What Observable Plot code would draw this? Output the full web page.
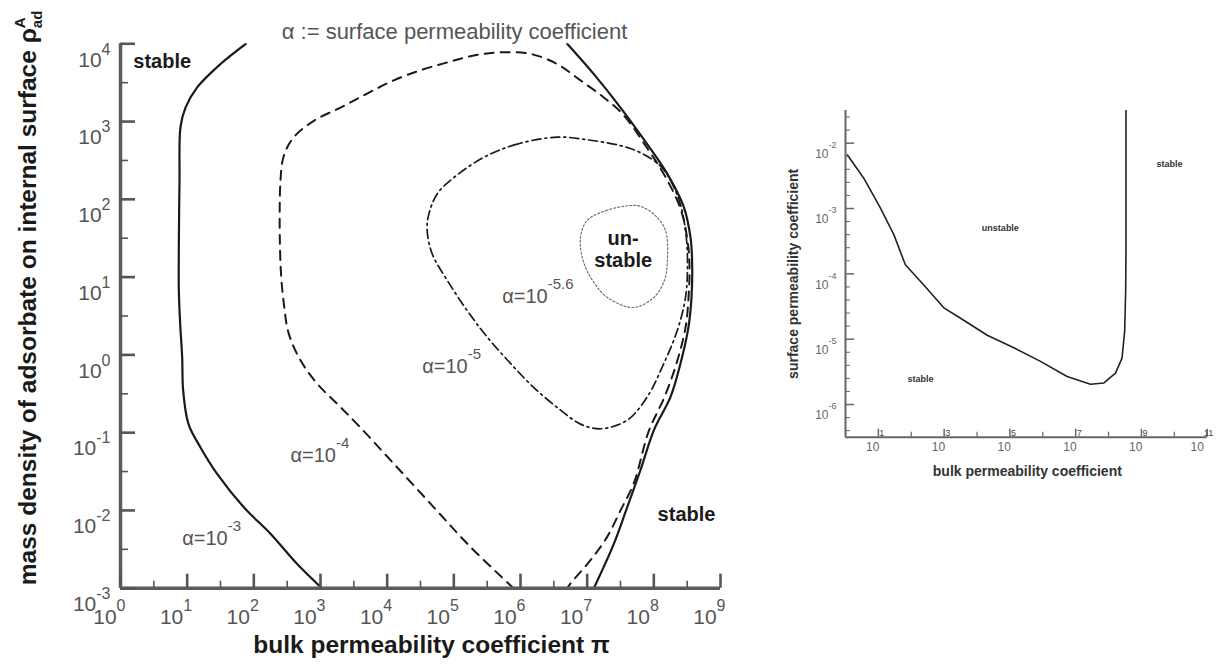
<!DOCTYPE html>
<html>
<head>
<meta charset="utf-8">
<script src="https://cdn.jsdelivr.net/npm/d3@7"></script>
<script src="https://cdn.jsdelivr.net/npm/@observablehq/plot@0.6"></script>
<style>
  html,body{margin:0;padding:0;background:#fff;}
  #fig{position:relative;width:1224px;height:669px;overflow:hidden;background:#fff;}
  #main,#inset{position:absolute;top:0;}
  #main{left:0;} #inset{left:760px;}
</style>
</head>
<body>
<div id="fig"><div id="main"></div><div id="inset"></div></div>
<script>
// ---------------- DATA (log10 exponents) ----------------
// Main chart: x = bulk permeability coefficient π, y = mass density of adsorbate ρ_ad^A
const mainXTickExp  = [0,1,2,3,4,5,6,7,8,9];
const mainXMinorExp = [0.5,1.5,2.5,3.5,4.5,5.5,6.5,7.5,8.5];
const mainYTickExp  = [-3,-2,-1,0,1,2,3,4];
const mainYMinorExp = [-2.5,-1.5,-0.5,0.5,1.5,2.5,3.5];

// α = 10^-3, left branch (solid)
const a3LeftPi  = [1.88,1.50,1.15,0.975,0.90,0.885,0.875,0.875,0.895,0.925,0.94,1.02,1.20,1.45,1.85,2.25,2.65,3.02];
const a3LeftRho = [4.00,3.74,3.44,3.18,2.93,2.24,1.38,0.83,0.40,-0.03,-0.46,-0.89,-1.19,-1.53,-1.96,-2.30,-2.69,-3.00];
// α = 10^-3, right branch (solid)
const a3RightPi  = [6.70,7.10,7.50,7.90,8.20,8.45,8.55,8.575,8.565,8.52,8.40,8.25,8.00,7.80,7.60,7.40,7.10];
const a3RightRho = [4.00,3.61,3.18,2.71,2.33,1.90,1.51,1.17,0.74,0.36,-0.11,-0.54,-0.97,-1.48,-1.96,-2.43,-3.00];
// α = 10^-4 (dashed)
const a4Pi  = [5.895,5.25,4.70,4.10,3.55,3.25,2.95,2.70,2.525,2.45,2.40,2.40,2.45,2.60,2.90,3.30,3.70,4.10,4.50,4.90,5.30,5.70,6.15,6.55,6.90,7.25,7.55,7.875,8.16,8.40,8.505,8.535,8.52,8.475,8.34,8.16,7.92,7.70,7.50,7.30,7.05,6.75,6.70];
const a4Rho = [-3.00,-2.47,-1.96,-1.40,-0.89,-0.63,-0.37,-0.07,0.27,0.66,1.17,2.24,2.56,2.80,3.01,3.18,3.36,3.53,3.66,3.76,3.85,3.89,3.87,3.74,3.53,3.31,3.08,2.69,2.31,1.88,1.47,1.14,0.73,0.35,-0.11,-0.54,-0.99,-1.65,-2.00,-2.34,-2.64,-2.94,-3.00];
// α = 10^-5 (dash-dot, closed)
const a5Pi  = [6.55,5.95,5.45,5.00,4.75,4.625,4.60,4.675,4.90,5.20,5.50,5.85,6.20,6.60,6.90,7.20,7.60,7.90,8.15,8.35,8.475,8.505,8.475,8.37,8.13,7.80,7.50,7.05];
const a5Rho = [2.80,2.71,2.54,2.28,2.07,1.81,1.60,1.30,0.96,0.57,0.23,-0.11,-0.42,-0.71,-0.89,-0.95,-0.84,-0.54,-0.11,0.31,0.74,1.17,1.60,2.01,2.40,2.60,2.69,2.76];
// α = 10^-5.6 (dotted, closed)
const a56Pi  = [7.65,7.30,7.00,6.90,6.93,7.05,7.30,7.70,8.00,8.16,8.20,8.175,8.00,7.80];
const a56Rho = [1.92,1.86,1.73,1.51,1.24,1.00,0.74,0.61,0.74,0.96,1.17,1.60,1.81,1.91];

// curve labels
const alphaLabelText = ["α=10^{-3}","α=10^{-4}","α=10^{-5}","α=10^{-5.6}"];
const alphaLabelPi   = [0.925,2.55,4.525,5.725];
const alphaLabelRho  = [-2.365,-1.29,-0.15,0.755];
// region labels
const regionText = ["stable","stable","un-\nstable"];
const regionPi   = [0.625,8.49,7.54];
const regionRho  = [3.785,-2.04,1.36];

// Inset: x = bulk permeability coefficient, y = surface permeability coefficient
const insetXMajorExp = [1,3,5,7,9,11];
const insetXMinorExp = [2,4,6,8,10];
const insetYMajorExp = [-2,-3,-4,-5,-6];
const insetYMinorExp = [-1.6,-1.8,-2.2,-2.4,-2.6,-2.8,-3.2,-3.4,-3.6,-3.8,-4.2,-4.4,-4.6,-4.8,-5.2,-5.4,-5.6,-5.8,-6.2,-6.4];
const insetCurvePi    = [0.06,0.56,1.06,1.47,1.82,2.38,2.99,3.50,4.31,5.12,5.93,6.74,7.45,7.86,8.21,8.41,8.49,8.52,8.53,8.53];
const insetCurveAlpha = [-2.18,-2.54,-2.99,-3.40,-3.86,-4.17,-4.52,-4.68,-4.94,-5.13,-5.34,-5.57,-5.69,-5.67,-5.52,-5.29,-4.88,-4.27,-3.66,-1.50];
const insetRegionText = ["stable","unstable","stable"];
const insetRegionPi   = [9.85,4.71,2.28];
const insetRegionAlpha= [-2.32,-3.30,-5.61];

// ---------------- helpers ----------------
const FONT = "'Liberation Sans', Arial, Helvetica, sans-serif";
const pts = (px, py) => px.map((v, i) => ({x: 10 ** v, y: 10 ** py[i]}));
const SVGNS = "http://www.w3.org/2000/svg";

// turn "10^{-3}" / "ρ^{A}_{ad}" into real tspans
function richify(root, cls, o) {
  root.querySelectorAll(`g.${cls} text`).forEach(el => {
    const s = el.textContent;
    if (!/[\^_]\{/.test(s)) return;
    const parts = s.split(/(\^\{[^}]*\}|_\{[^}]*\})/).filter(p => p !== "");
    while (el.firstChild) el.removeChild(el.firstChild);
    let level = 0, lastSup = null;
    parts.forEach(p => {
      const t = document.createElementNS(SVGNS, "tspan");
      let target = 0, size = null, txt = p;
      if (p.startsWith("^{")) { target = -o.sup; size = o.size; txt = p.slice(2, -1); }
      else if (p.startsWith("_{")) { target = o.sub; size = o.size; txt = p.slice(2, -1);
        if (lastSup) t.setAttribute("dx", -lastSup.getComputedTextLength()); }
      t.setAttribute("dy", target - level);
      if (size) t.setAttribute("font-size", size);
      if (o.supFill && p.startsWith("^{")) t.setAttribute("fill", o.supFill);
      t.textContent = txt;
      el.appendChild(t);
      level = target;
      lastSup = p.startsWith("^{") ? t : null;
    });
  });
}

// ---------------- MAIN CHART ----------------
const mW = 760, mH = 669, mL = 120, mR = 40, mT = 43.3, mB = 81.3;
const frameH = mH - mT - mB, frameW = mW - mL - mR;
const axisCol = "#5c5c5c", tickCol = "#555", labCol = "#555", dark = "#1a1a1a";

const mainPlot = Plot.plot({
  width: mW, height: mH,
  marginLeft: mL, marginRight: mR, marginTop: mT, marginBottom: mB,
  x: {type: "log", domain: [1, 1e9], axis: null},
  y: {type: "log", domain: [1e-3, 1e4], axis: null},
  style: {fontFamily: FONT, background: "#fff", overflow: "visible"},
  marks: [
    Plot.line(pts(a3LeftPi, a3LeftRho), {x: "x", y: "y", stroke: dark, strokeWidth: 2.2, curve: "catmull-rom", clip: true}),
    Plot.line(pts(a3RightPi, a3RightRho), {x: "x", y: "y", stroke: dark, strokeWidth: 2.2, curve: "catmull-rom", clip: true}),
    Plot.line(pts(a4Pi, a4Rho), {x: "x", y: "y", stroke: dark, strokeWidth: 2, strokeDasharray: "9,7", curve: "catmull-rom", clip: true}),
    Plot.line(pts(a5Pi, a5Rho), {x: "x", y: "y", stroke: dark, strokeWidth: 1.7, strokeDasharray: "9,4,2,4", curve: "catmull-rom-closed", clip: true}),
    Plot.line(pts(a56Pi, a56Rho), {x: "x", y: "y", stroke: "#666", strokeWidth: 1.1, strokeDasharray: "2,2", curve: "catmull-rom-closed", clip: true}),
    // axes
    Plot.ruleX([1], {stroke: axisCol, strokeWidth: 3.5}),
    Plot.ruleY([1e-3], {stroke: axisCol, strokeWidth: 3.5}),
    Plot.tickX(mainXTickExp, {x: d => 10 ** d, insetTop: frameH - 14, stroke: tickCol, strokeWidth: 2.6}),
    Plot.tickX(mainXMinorExp, {x: d => 10 ** d, insetTop: frameH - 7, stroke: tickCol, strokeWidth: 1.6}),
    Plot.tickY(mainYTickExp, {y: d => 10 ** d, insetRight: frameW - 15, stroke: tickCol, strokeWidth: 2.6}),
    Plot.tickY(mainYMinorExp, {y: d => 10 ** d, insetRight: frameW - 8, stroke: tickCol, strokeWidth: 1.6}),
    // tick labels
    Plot.text(mainXTickExp, {x: d => 10 ** d, y: 1e-3, text: d => `10^{${d}}`, textAnchor: "end", dx: 5, dy: 29, fontSize: 21, fill: labCol, className: "tkx"}),
    Plot.text(mainYTickExp, {x: 1, y: d => 10 ** d, text: d => `10^{${d}}`, textAnchor: "end", dx: -10, dy: 16, fontSize: 21, fill: labCol, className: "tky"}),
    // curve labels
    Plot.text(alphaLabelText, {x: (d, i) => 10 ** alphaLabelPi[i], y: (d, i) => 10 ** alphaLabelRho[i], text: d => d, textAnchor: "start", fontSize: 20, fill: labCol, className: "alab"}),
    // region labels
    Plot.text(regionText, {x: (d, i) => 10 ** regionPi[i], y: (d, i) => 10 ** regionRho[i], text: d => d, fontSize: 20, fontWeight: "bold", fill: dark, lineHeight: 1.1}),
    // titles
    Plot.text(["α := surface permeability coefficient"], {frameAnchor: "top", dx: 34, dy: -20, fontSize: 22, fill: labCol}),
    Plot.text(["bulk permeability coefficient π"], {frameAnchor: "bottom", dx: 11, dy: 65, fontSize: 24.5, fontWeight: "bold", fill: dark}),
    Plot.text(["mass density of adsorbate on internal surface ρ^{A}_{ad}"], {frameAnchor: "bottom-left", textAnchor: "start", rotate: -90, dx: -85, dy: -3, fontSize: 24.5, fontWeight: "bold", fill: dark, className: "ylab"})
  ]
});
document.getElementById("main").appendChild(mainPlot);
richify(mainPlot, "tkx", {sup: 13, size: 16});
richify(mainPlot, "tky", {sup: 12, size: 16});
richify(mainPlot, "alab", {sup: 14, size: 15});
richify(mainPlot, "ylab", {sup: 11, sub: 6, size: 15});

// ---------------- INSET ----------------
const iW = 464, iH = 669, iL = 85, iR = 17.3, iT = 110, iB = 232.3;
const iFH = iH - iT - iB, iFW = iW - iL - iR;
const insetPlot = Plot.plot({
  width: iW, height: iH,
  marginLeft: iL, marginRight: iR, marginTop: iT, marginBottom: iB,
  x: {type: "log", domain: [1, 1e11], axis: null},
  y: {type: "log", domain: [10 ** -6.5, 10 ** -1.5], axis: null},
  style: {fontFamily: FONT, background: "transparent", overflow: "visible"},
  marks: [
    Plot.line(pts(insetCurvePi, insetCurveAlpha), {x: "x", y: "y", stroke: "#222", strokeWidth: 1.6, clip: true}),
    Plot.ruleX([1], {stroke: "#666", strokeWidth: 2}),
    Plot.ruleY([10 ** -6.5], {stroke: "#666", strokeWidth: 2}),
    Plot.tickX(insetXMajorExp, {x: d => 10 ** d, insetTop: iFH - 8, stroke: "#666", strokeWidth: 1.5}),
    Plot.tickX(insetXMinorExp, {x: d => 10 ** d, insetTop: iFH - 5, stroke: "#666", strokeWidth: 1.2}),
    Plot.tickY(insetYMajorExp, {y: d => 10 ** d, insetRight: iFW - 9, stroke: "#666", strokeWidth: 1.5}),
    Plot.tickY(insetYMinorExp, {y: d => 10 ** d, insetRight: iFW - 5, stroke: "#666", strokeWidth: 1}),
    Plot.text(insetXMajorExp, {x: d => 10 ** d, y: 10 ** -6.5, text: d => `10^{${d}}`, textAnchor: "end", dx: 6, dy: 10, fontSize: 12, fill: "#666", className: "itx"}),
    Plot.text(insetYMajorExp, {x: 1, y: d => 10 ** d, text: d => `10^{${d}}`, textAnchor: "end", dx: -9, dy: 11, fontSize: 12, fill: "#666", className: "ity"}),
    Plot.text(insetRegionText, {x: (d, i) => 10 ** insetRegionPi[i], y: (d, i) => 10 ** insetRegionAlpha[i], text: d => d, fontSize: 9, fontWeight: "bold", fill: "#333"}),
    Plot.text(["bulk permeability coefficient"], {frameAnchor: "bottom", dx: 1, dy: 39, fontSize: 14, fontWeight: "bold", fill: "#333"}),
    Plot.text(["surface permeability coefficient"], {frameAnchor: "left", textAnchor: "middle", rotate: -90, dx: -52, dy: 0, fontSize: 14, fontWeight: "bold", fill: "#333"})
  ]
});
document.getElementById("inset").appendChild(insetPlot);
richify(insetPlot, "itx", {sup: 15, size: 9, supFill: "#444"});
richify(insetPlot, "ity", {sup: 10, size: 9});
</script>
</body>
</html>
